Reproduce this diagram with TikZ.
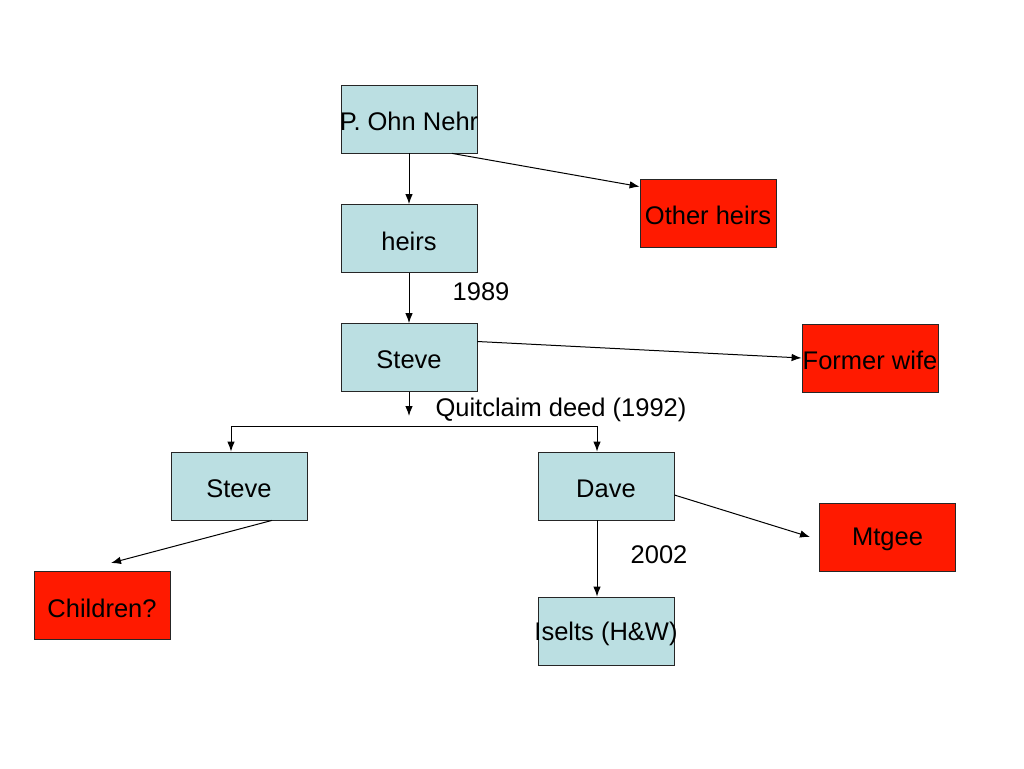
\documentclass[tikz,border=0pt]{standalone}
\usepackage{fontspec}
\setmainfont{Liberation Sans}
\usetikzlibrary{arrows.meta}
\definecolor{boxblue}{HTML}{BBDFE2}
\definecolor{boxred}{HTML}{FF1A00}
\newcommand\ctext[1]{\raisebox{-2.5pt}[\height][\depth]{\makebox[0pt]{#1}}}
\tikzset{
  base/.style={draw=black!85, line width=0.8pt, minimum width=136pt, minimum height=68pt, inner sep=0pt, font=\fontsize{25.5}{28}\selectfont},
  bluebox/.style={base, fill=boxblue},
  redbox/.style={base, fill=boxred},
  conn/.style={line width=1pt, -{Latex[length=10pt,width=7.5pt]}},
  plain/.style={line width=1pt},
  lbl/.style={font=\fontsize{25.5}{28}\selectfont, inner sep=0pt}
}
\begin{document}
\begin{tikzpicture}[x=1pt,y=-1pt]
\useasboundingbox[fill=white] (0,0) rectangle (1024,768);
\node[bluebox] (pon) at (409,119) {\ctext{P. Ohn Nehr}};
\node[redbox] (oh) at (708,213) {\ctext{Other heirs}};
\node[bluebox] (heirs) at (409,238.5) {\ctext{heirs}};
\node[bluebox] (steve) at (409,357.5) {\ctext{Steve}};
\node[redbox] (fw) at (870,358) {\ctext{Former wife}};
\node[bluebox] (steve2) at (239,486) {\ctext{Steve}};
\node[bluebox] (dave) at (606,486) {\ctext{Dave}};
\node[redbox] (mtg) at (887.5,537) {\ctext{Mtgee}};
\node[redbox] (child) at (102,605.5) {\ctext{Children?}};
\node[bluebox] (iselts) at (606,631) {\ctext{Iselts (H\&W)}};
\node[lbl] (y1989) at (481,292) {1989};
\node[lbl] (qc) at (561,410) {Quitclaim deed (1992)};
\node[lbl] (y2002) at (659,555) {2002};
\coordinate (q) at (409,416);
\coordinate (hl) at (231,426);
\coordinate (hr) at (597,426);
\coordinate (chend) at (111,563);
\coordinate (mtend) at (810,537);
\draw[conn] (pon.south) -- (heirs.north);
\draw[conn] ([xshift=43pt]pon.south) -- ([yshift=-8pt]oh.north west);
\draw[conn] (heirs.south) -- (steve.north);
\draw[conn] ([yshift=16pt]steve.east) -- (fw.west);
\draw[conn] (steve.south) -- (q);
\draw[plain] (hl) -- (hr);
\draw[conn] (hl) -- (hl |- steve2.north);
\draw[conn] (hr) -- (hr |- dave.north);
\draw[conn] ([xshift=33pt]steve2.south) -- (chend);
\draw[conn] ([yshift=-9pt]dave.east) -- (mtend);
\draw[conn] (dave.south -| hr) -- (iselts.north -| hr);
\end{tikzpicture}
\end{document}
